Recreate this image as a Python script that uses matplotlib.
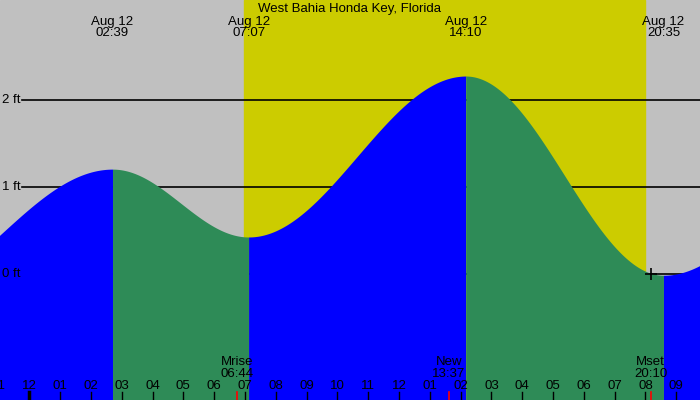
import numpy as np
import matplotlib
matplotlib.use("Agg")
import matplotlib.pyplot as plt
import matplotlib.transforms as mtransforms

title = "West Bahia Honda Key, Florida"

# tide extremes (hours from midnight Aug 12), heights in ft
tide_hours = [-4.5, 2.7, 7.117, 14.167, 20.583, 26.9]
tide_heights = [-0.28, 1.20, 0.42, 2.27, -0.02, 1.32]
tide_labels = [None, "Aug 12\n02:39", "Aug 12\n07:07", "Aug 12\n14:10", "Aug 12\n20:35", None]

sunrise = 6.97
sunset = 20.0

moon_hours = [6.733, 13.617, 20.167]
moon_labels = ["Mrise\n06:44", "New\n13:37", "Mset\n20:10"]

hour_ticks = list(range(-1, 22))
hour_labels = ["11", "12", "01", "02", "03", "04", "05", "06", "07", "08", "09", "10",
               "11", "12", "01", "02", "03", "04", "05", "06", "07", "08", "09"]

ft_levels = [0, 1, 2]
ft_labels = ["0 ft", "1 ft", "2 ft"]

plt.rcParams['font.family'] = ['Liberation Sans', 'DejaVu Sans']
fs = 9.5

fig = plt.figure(figsize=(7, 4), dpi=100)
ax = fig.add_axes([0, 0, 1, 1])
xmin, xmax = -0.951, 21.769
ymin, ymax = -1.454, 3.144
ax.set_xlim(xmin, xmax)
ax.set_ylim(ymin, ymax)
ax.axis('off')

ax.axvspan(xmin, xmax, color='#c0c0c0', zorder=0)
ax.axvspan(sunrise, sunset, color='#cccc00', zorder=0)

for lv in ft_levels:
    ax.plot([-0.237, xmax], [lv, lv], color='black', lw=1.2, zorder=1)

# tide curve, cosine between extremes
for i in range(len(tide_hours) - 1):
    t0, t1 = tide_hours[i], tide_hours[i + 1]
    h0, h1 = tide_heights[i], tide_heights[i + 1]
    t = np.linspace(t0, t1, 300)
    h = h0 + (h1 - h0) * (1 - np.cos(np.pi * (t - t0) / (t1 - t0))) / 2
    col = '#0000ff' if h1 > h0 else '#2e8b57'
    ax.fill_between(t, ymin, h, color=col, lw=0, zorder=2)

for lv, lab in zip(ft_levels, ft_labels):
    ax.text(-0.886, lv, lab, fontsize=fs, va='center', ha='left', zorder=5)

ax.text(0.5, 0.978, title, transform=ax.transAxes, ha='center', va='center', fontsize=fs)

trans = mtransforms.blended_transform_factory(ax.transData, ax.transAxes)
for t, lab in zip(tide_hours, tide_labels):
    if lab:
        ax.text(t, 0.932, lab, transform=trans, ha='center', va='center',
                fontsize=fs, linespacing=0.9)

for t, lab in zip(hour_ticks, hour_labels):
    lw = 2.5 if lab == "12" and t == 0 else 1.0
    ax.plot([t, t], [0, 0.02], color='black', lw=lw, transform=trans, zorder=4)
    ax.text(t, 0.036, lab, transform=trans, ha='center', va='center', fontsize=fs, zorder=4)

for t, lab in zip(moon_hours, moon_labels):
    ax.plot([t, t], [0, 0.02], color='red', lw=1.2, transform=trans, zorder=4)
    ax.text(t, 0.08, lab, transform=trans, ha='center', va='center', fontsize=fs,
            linespacing=0.9, zorder=4)

ax.plot([moon_hours[2]], [0], marker='+', color='black', ms=8, mew=1.2, zorder=5)

fig.savefig("out.png", dpi=100)
